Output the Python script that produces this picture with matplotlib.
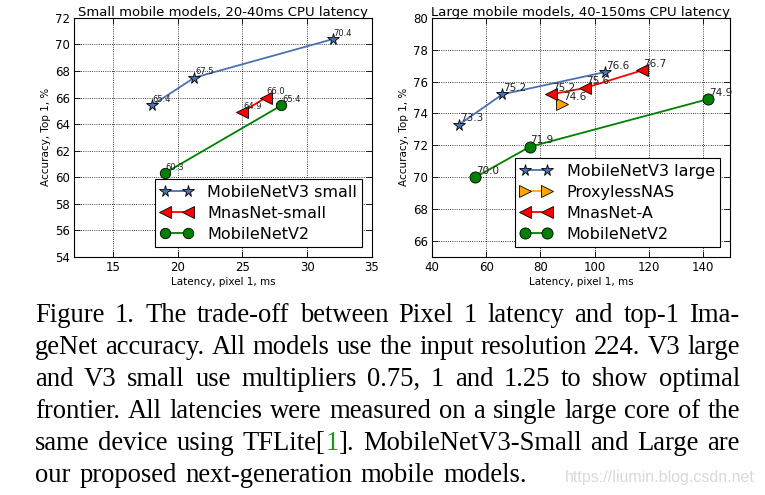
import numpy as np
import matplotlib.pyplot as plt

# datos - modelos pequeños
v3s_lat = [18.0, 21.3, 32.0]
v3s_acc = [65.4, 67.5, 70.4]
mnas_s_lat = [25.0, 26.8]
mnas_s_acc = [64.9, 66.0]
v2s_lat = [19.0, 28.0]
v2s_acc = [60.3, 65.4]

# datos - modelos grandes
v3l_lat = [50.0, 66.0, 104.0]
v3l_acc = [73.3, 75.2, 76.6]
proxy_lat = [88.0]
proxy_acc = [74.6]
mnas_a_lat = [84.0, 96.5, 117.5]
mnas_a_acc = [75.2, 75.6, 76.7]
v2l_lat = [56.0, 76.0, 142.0]
v2l_acc = [70.0, 71.9, 74.9]

small_xticks = [15, 20, 25, 30, 35]
small_yticks = [54, 56, 58, 60, 62, 64, 66, 68, 70, 72]
large_xticks = [40, 60, 80, 100, 120, 140]
large_yticks = [66, 68, 70, 72, 74, 76, 78, 80]

caption = [
    "Figure 1. The trade-off between Pixel 1 latency and top-1 Ima-",
    "geNet accuracy. All models use the input resolution 224. V3 large",
    "and V3 small use multipliers 0.75, 1 and 1.25 to show optimal",
    "frontier. All latencies were measured on a single large core of the",
    "same device using TFLite[1]. MobileNetV3-Small and Large are",
    "our proposed next-generation mobile models.",
]

BLUE = '#4a72b0'

fig = plt.figure(figsize=(7.65, 4.95), dpi=100)
ax1 = fig.add_axes([0.0967, 0.481, 0.3895, 0.483])
ax2 = fig.add_axes([0.5647, 0.481, 0.3895, 0.483])


def style_axes(ax, title, xlim, ylim, xticks, yticks):
    ax.set_xlim(*xlim)
    ax.set_ylim(*ylim)
    ax.set_xticks(xticks)
    ax.set_yticks(yticks)
    ax.grid(True, linestyle=':', color='black', linewidth=0.6)
    ax.tick_params(direction='in', top=True, right=True, labelsize=8.5,
                   length=4, width=0.6, pad=3)
    ax.set_title(title, fontsize=9.5, pad=1)
    ax.set_xlabel('Latency, pixel 1, ms', fontsize=7.5, labelpad=2)
    ax.set_ylabel('Accuracy, Top 1, %', fontsize=7.5, labelpad=3)
    for s in ax.spines.values():
        s.set_linewidth(0.8)


def annotate(ax, xs, ys, fs):
    for x, y in zip(xs, ys):
        ax.annotate(f'{y:.1f}', (x, y), xytext=(0.5, 2.5),
                    textcoords='offset points', fontsize=fs, color='#222222')


def add_legend(ax):
    leg = ax.legend(loc='lower right', numpoints=2, fontsize=11.5, fancybox=False,
                    framealpha=1, edgecolor='black', borderaxespad=0.6,
                    handlelength=2.0, handletextpad=0.9, labelspacing=0.38,
                    borderpad=0.35)
    leg.get_frame().set_linewidth(0.8)


# parte 1: modelos pequeños
ax1.plot(v3s_lat, v3s_acc, '-*', color=BLUE, mfc=BLUE, mec='black', mew=0.6,
         ms=8.5, lw=1.3, label='MobileNetV3 small')
ax1.plot(mnas_s_lat, mnas_s_acc, '-<', color='red', mfc='red', mec='black',
         mew=0.6, ms=8.5, lw=1.3, label='MnasNet-small')
ax1.plot(v2s_lat, v2s_acc, '-o', color='green', mfc='green', mec='black',
         mew=0.6, ms=7.5, lw=1.3, label='MobileNetV2')
annotate(ax1, v3s_lat, v3s_acc, 6)
annotate(ax1, mnas_s_lat, mnas_s_acc, 6)
annotate(ax1, v2s_lat, v2s_acc, 6)
style_axes(ax1, 'Small mobile models, 20-40ms CPU latency', (12, 35), (54, 72),
           small_xticks, small_yticks)
add_legend(ax1)

# parte 2: modelos grandes
ax2.plot(v3l_lat, v3l_acc, '-*', color=BLUE, mfc=BLUE, mec='black', mew=0.6,
         ms=8.5, lw=1.3, label='MobileNetV3 large')
ax2.plot(proxy_lat, proxy_acc, '->', color='orange', mfc='orange', mec='black',
         mew=0.6, ms=8.5, lw=1.3, label='ProxylessNAS')
ax2.plot(mnas_a_lat, mnas_a_acc, '-<', color='red', mfc='red', mec='black',
         mew=0.6, ms=8.5, lw=1.3, label='MnasNet-A')
ax2.plot(v2l_lat, v2l_acc, '-o', color='green', mfc='green', mec='black',
         mew=0.6, ms=8, lw=1.3, label='MobileNetV2')
annotate(ax2, v3l_lat, v3l_acc, 7.5)
annotate(ax2, proxy_lat, proxy_acc, 7.5)
annotate(ax2, mnas_a_lat, mnas_a_acc, 7.5)
annotate(ax2, v2l_lat, v2l_acc, 7.5)
style_axes(ax2, 'Large mobile models, 40-150ms CPU latency', (40, 150), (65, 80),
           large_xticks, large_yticks)
add_legend(ax2)

# parte 3: pie de figura justificado
renderer = fig.canvas.get_renderer()
W, H = fig.get_size_inches() * fig.dpi
x_left, x_right, x_right_last = 35, 740, 527
baseline0, step = 322, 32
cap_font = dict(family='Liberation Serif', fontsize=19.2)


def segments(word):
    # el "1" de la cita va en verde
    if '[1]' in word:
        a, b = word.split('[1]')
        return [(a + '[', 'black'), ('1', '#1a9a1a'), (']' + b, 'black')]
    return [(word, 'black')]


def width_of(s):
    t = fig.text(0, 0, s, **cap_font)
    w = t.get_window_extent(renderer).width
    t.remove()
    return w


for i, line in enumerate(caption):
    words = line.split(' ')
    widths = [sum(width_of(s) for s, _ in segments(w)) for w in words]
    right = x_right_last if i == len(caption) - 1 else x_right
    gap = (right - x_left - sum(widths)) / (len(words) - 1)
    y = (H - (baseline0 + i * step)) / H
    x = x_left
    for w, ww in zip(words, widths):
        xx = x
        for s, c in segments(w):
            fig.text(xx / W, y, s, color=c, va='baseline', ha='left', **cap_font)
            xx += width_of(s)
        x += ww + gap

fig.text(755 / W, (H - 482) / H, 'https://liumin.blog.csdn.net', ha='right',
         va='baseline', color='#d9d9d9', fontsize=11.5, family='Liberation Sans')

fig.savefig('out.png', dpi=100)
